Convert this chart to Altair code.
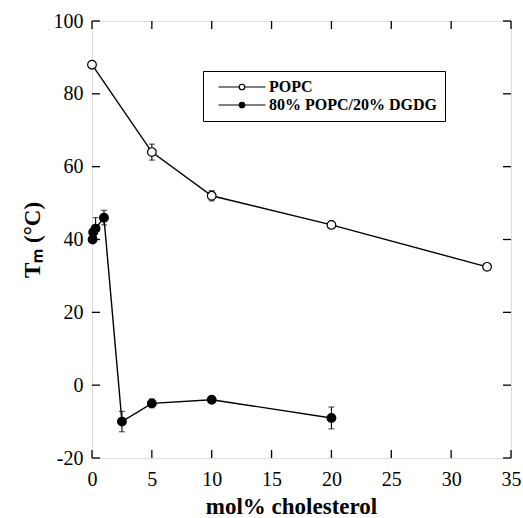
import altair as alt
import pandas as pd

# Main-transition temperature vs. cholesterol content
series_names = ["POPC", "80% POPC/20% DGDG"]

popc_x = [0, 5, 10, 20, 33]
popc_y = [88, 64, 52, 44, 32.5]

dgdg_x = [0.05, 0.1, 0.3, 1, 2.5, 5, 10, 20]
dgdg_y = [40, 42, 43, 46, -10, -5, -4, -9]

# error bars: x, mean, half-width
popc_err_x = [5, 10]
popc_err_y = [64, 52]
popc_err_d = [2.2, 1.4]

dgdg_err_x = [0.3, 1, 2.5, 5, 20]
dgdg_err_y = [43, 46, -10, -5, -9]
dgdg_err_d = [3, 2, 2.8, 1.2, 3]

x_ticks = [0, 5, 10, 15, 20, 25, 30, 35]
y_ticks = [-20, 0, 20, 40, 60, 80, 100]

W, H = 419, 437
TICK = 8
FONT = "Liberation Serif"

pts = pd.concat([
    pd.DataFrame({"x": popc_x, "y": popc_y, "series": series_names[0], "order": range(len(popc_x))}),
    pd.DataFrame({"x": dgdg_x, "y": dgdg_y, "series": series_names[1], "order": range(len(dgdg_x))}),
])
err = pd.concat([
    pd.DataFrame({"x": popc_err_x, "m": popc_err_y, "d": popc_err_d}),
    pd.DataFrame({"x": dgdg_err_x, "m": dgdg_err_y, "d": dgdg_err_d}),
])
err["lo"] = err["m"] - err["d"]
err["hi"] = err["m"] + err["d"]
xt = pd.DataFrame({"v": x_ticks})
yt = pd.DataFrame({"v": y_ticks})

xs = alt.Scale(domain=[0, 35], nice=False, zero=False)
ys = alt.Scale(domain=[-20, 100], nice=False, zero=False)

x_axis = alt.Axis(values=x_ticks, domain=False, ticks=False, grid=False, labelFlush=False,
                  labelFont=FONT, labelFontSize=20, labelColor="black", labelPadding=11,
                  titleFont=FONT, titleFontSize=23, titleFontWeight="bold", titleColor="black",
                  titlePadding=6, titleX=199, labelExpr="'' + datum.value")
y_axis = alt.Axis(values=y_ticks, domain=False, ticks=False, grid=False, labelFlush=False,
                  labelFont=FONT, labelFontSize=20, labelColor="black", labelPadding=9,
                  titleFont=FONT, titleFontSize=23, titleFontWeight="bold", titleColor="black",
                  titlePadding=9, labelExpr="'' + datum.value")

X_TITLE = "mol% cholesterol"
Y_TITLE = "Tₘ (°C)"

def X(field):
    return alt.X(field, type="quantitative", scale=xs, axis=x_axis, title=X_TITLE)

def Y(field):
    return alt.Y(field, type="quantitative", scale=ys, axis=y_axis, title=Y_TITLE)

# legend symbol: short line with a circle in the middle
LEG_PATH = "M-4.7,0H-0.55M0.55,0H4.7M-0.55,0A0.55,0.55,0,1,1,0.55,0A0.55,0.55,0,1,1,-0.55,0Z"

lines = alt.Chart(pts).mark_line(color="black", strokeWidth=1.4).encode(
    x=X("x"), y=Y("y"), detail="series:N", order="order:Q"
)

bars = alt.Chart(err).mark_rule(color="black", strokeWidth=1.1).encode(
    x=X("x"), y=Y("lo"), y2="hi:Q"
)
cap_lo = alt.Chart(err).mark_tick(color="black", orient="horizontal", size=6, thickness=1.1).encode(
    x=X("x"), y=Y("lo")
)
cap_hi = alt.Chart(err).mark_tick(color="black", orient="horizontal", size=6, thickness=1.1).encode(
    x=X("x"), y=Y("hi")
)

points = alt.Chart(pts).mark_circle(stroke="black", strokeWidth=1.2, opacity=1, size=75).encode(
    x=X("x"), y=Y("y"),
    fill=alt.Fill("series:N",
                  scale=alt.Scale(domain=series_names, range=["white", "black"]),
                  legend=alt.Legend(title=None, orient="none", legendX=111, legendY=50,
                                    symbolType=LEG_PATH, symbolSize=100,
                                    symbolStrokeColor="black", symbolStrokeWidth=1.2,
                                    symbolOffset=23, labelOffset=19, labelLimit=300,
                                    labelFont=FONT, labelFontSize=16, labelFontWeight="bold",
                                    labelColor="black", strokeColor="black", fillColor="white",
                                    padding=8, rowPadding=2, cornerRadius=0)),
)

# inward ticks on all four sides of the frame
tick_l = alt.Chart(yt).mark_rule(color="black", strokeWidth=1.3).encode(
    y=Y("v"), x=alt.value(0), x2=alt.value(TICK))
tick_r = alt.Chart(yt).mark_rule(color="black", strokeWidth=1.3).encode(
    y=Y("v"), x=alt.value(W - TICK), x2=alt.value(W))
tick_b = alt.Chart(xt).mark_rule(color="black", strokeWidth=1.3).encode(
    x=X("v"), y=alt.value(H), y2=alt.value(H - TICK))
tick_t = alt.Chart(xt).mark_rule(color="black", strokeWidth=1.3).encode(
    x=X("v"), y=alt.value(0), y2=alt.value(TICK))

chart = alt.layer(
    tick_l, tick_r, tick_b, tick_t, lines, bars, cap_lo, cap_hi, points
).properties(
    width=W, height=H,
    autosize=alt.AutoSizeParams(type="none"),
    padding={"left": 92, "top": 21, "right": 12, "bottom": 60},
).configure_view(
    stroke="black", strokeWidth=1.5
).configure(background="white")

chart.save("out.html", embed_options={"renderer": "svg", "actions": False})
